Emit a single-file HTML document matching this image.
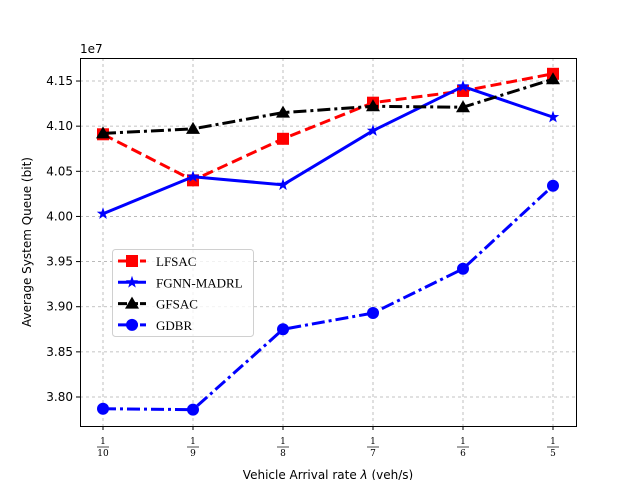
<!DOCTYPE html>
<html><head><meta charset="utf-8"><style>
body{margin:0;background:#fff}
svg text{font-family:"DejaVu Sans","Liberation Sans",sans-serif}
</style></head><body>
<svg id="chart" width="640" height="480" xmlns="http://www.w3.org/2000/svg">
<g id="grid"></g>
<g id="series"></g>
<rect x="80.5" y="58.5" width="496" height="368" fill="none" stroke="#000" stroke-width="1"/>
<g id="ticks"></g>
<text x="80" y="53" font-size="12">1e7</text>
<text transform="translate(31,242) rotate(-90)" text-anchor="middle" font-size="12">Average System Queue (bit)</text>
<text x="328" y="479" text-anchor="middle" font-size="12">Vehicle Arrival rate <tspan font-style="italic">λ</tspan> (veh/s)</text>
<g id="legend"></g>
</svg>
<script>
const categories=["10","9","8","7","6","5"];
const lfsac=[4.091,4.040,4.086,4.126,4.139,4.158];
const fgnn=[4.003,4.044,4.035,4.095,4.144,4.110];
const gfsac=[4.092,4.097,4.115,4.122,4.121,4.152];
const gdbr=[3.787,3.786,3.875,3.893,3.942,4.034];
const yTicks=[3.80,3.85,3.90,3.95,4.00,4.05,4.10,4.15];
const NS="http://www.w3.org/2000/svg";
const SERIF='font-family:"DejaVu Serif","Liberation Serif",serif';
function xs(i){return 103+i*90;}
function ys(v){return 397-(v-3.80)/0.05*45.14;}
function mk(tag,attrs,parent){const e=document.createElementNS(NS,tag);for(const k in attrs)e.setAttribute(k,attrs[k]);parent.appendChild(e);return e;}
const grid=document.getElementById('grid'),ticks=document.getElementById('ticks'),ser=document.getElementById('series'),leg=document.getElementById('legend');
categories.forEach((c,i)=>{
 const x=xs(i);
 const g=mk('line',{x1:x,x2:x,y1:58,y2:426,stroke:'#b0b0b0','stroke-dasharray':'3,3','stroke-width':0.8},grid);
 
 const t=mk('line',{x1:x,x2:x,y1:426,y2:430,stroke:'#000'},ticks);
 
 const n=mk('text',{x:x,y:444,'text-anchor':'middle','font-size':9,style:SERIF},ticks);n.textContent='1';
 
 mk('line',{x1:x-6,x2:x+6,y1:447,y2:447,stroke:'#000','stroke-width':0.7},ticks);
 const d=mk('text',{x:x,y:456,'text-anchor':'middle','font-size':9,style:SERIF},ticks);d.textContent=c;
 
});
yTicks.forEach(v=>{
 const y=ys(v);
 const g=mk('line',{x1:80,x2:576,y1:y,y2:y,stroke:'#b0b0b0','stroke-dasharray':'3,3','stroke-width':0.8},grid);
 
 const t=mk('line',{x1:76,x2:80,y1:y,y2:y,stroke:'#000'},ticks);
 
 const l=mk('text',{x:73,y:y+4,'text-anchor':'end','font-size':12},ticks);l.textContent=v.toFixed(2);
 
});
function marker(type,x,y,color,parent){
 let e;
 if(type==='s')e=mk('rect',{x:x-6,y:y-6,width:12,height:12,fill:color},parent);
 else if(type==='o')e=mk('circle',{cx:x,cy:y,r:6,fill:color},parent);
 else if(type==='^')e=mk('polygon',{points:`${x},${y-7} ${x-7},${y+5} ${x+7},${y+5}`,fill:color},parent);
 else{let p=[];for(let k=0;k<10;k++){const r=k%2?2.6:6.5,a=-Math.PI/2+k*Math.PI/5;p.push((x+r*Math.cos(a)).toFixed(1)+','+(y+r*Math.sin(a)).toFixed(1));}e=mk('polygon',{points:p.join(' '),fill:color},parent);}
 
}
const series=[
 {name:'LFSAC',data:lfsac,color:'#ff0000',dash:'11,5',m:'s'},
 {name:'FGNN-MADRL',data:fgnn,color:'#0000ff',dash:'',m:'*'},
 {name:'GFSAC',data:gfsac,color:'#000000',dash:'13,4,3,4',m:'^'},
 {name:'GDBR',data:gdbr,color:'#0000ff',dash:'13,4,3,4',m:'o'}];
series.forEach((s,si)=>{
 const g=mk('g',{},ser);
 
 const pl=mk('polyline',{points:s.data.map((v,i)=>xs(i)+','+ys(v)).join(' '),fill:'none',stroke:s.color,'stroke-width':3,'stroke-dasharray':s.dash},g);
 
 s.data.forEach((v,i)=>marker(s.m,xs(i),ys(v),s.color,g));
 const ly=261+si*21.3;
 const lg=mk('g',{},leg);
 
 mk('line',{x1:118,x2:146,y1:ly,y2:ly,stroke:s.color,'stroke-width':3,'stroke-dasharray':s.dash?'9,2':''},lg);
 marker(s.m,132,ly,s.color,lg);
 const t=mk('text',{x:156,y:ly+5,'font-size':13,style:'font-family:"Liberation Serif","DejaVu Serif",serif'},lg);t.textContent=s.name;
});
const box=mk('rect',{x:112.5,y:249.5,width:141,height:87,rx:3,fill:'#fff','fill-opacity':0.8,stroke:'#d0d0d0'},leg);

leg.insertBefore(box,leg.firstChild);
</script>
</body></html>
